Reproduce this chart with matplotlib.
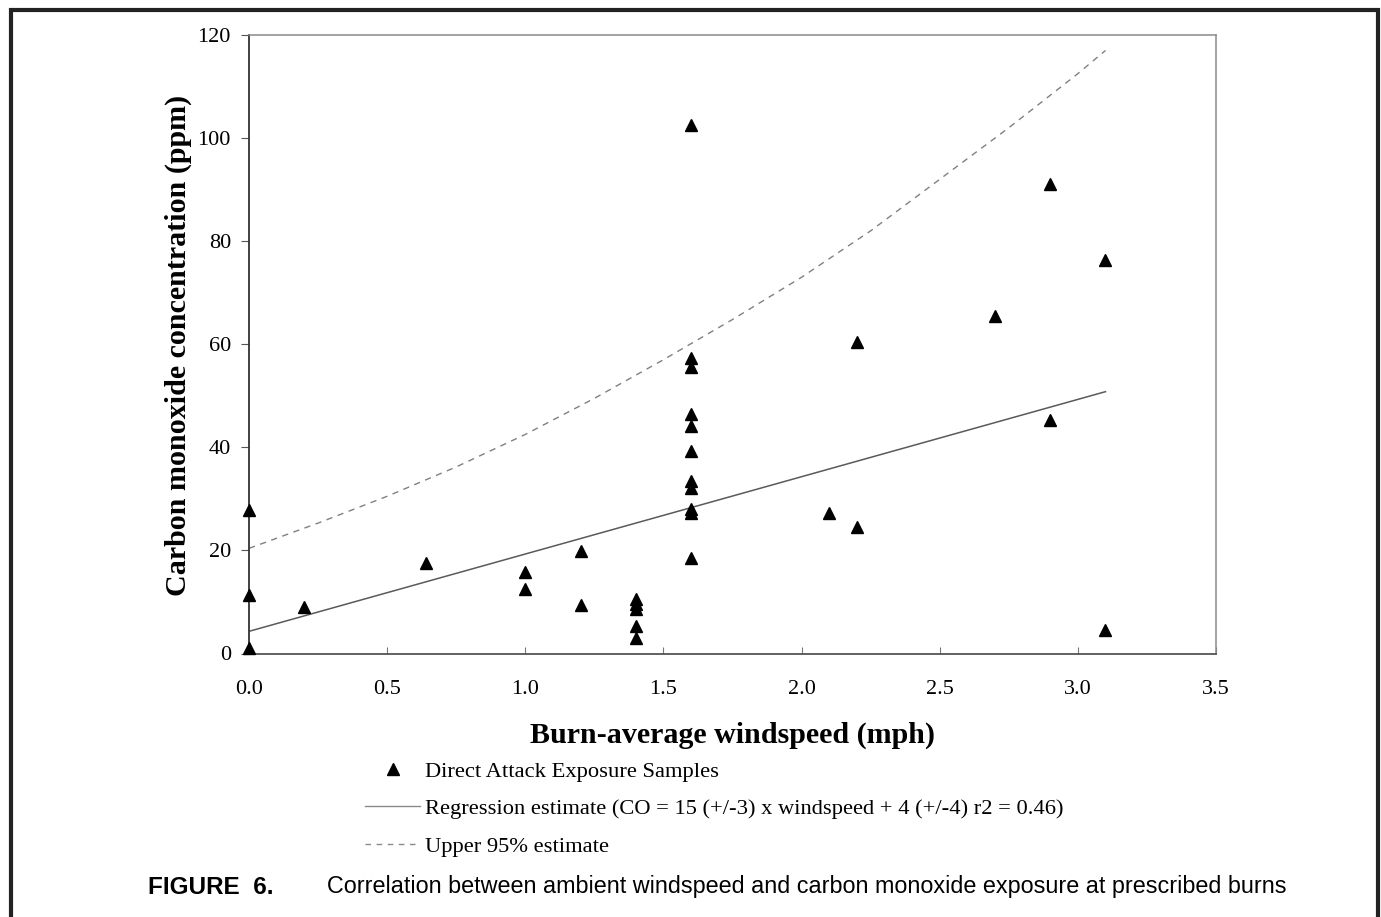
import matplotlib
matplotlib.use("Agg")
import matplotlib.pyplot as plt
from matplotlib.lines import Line2D
from matplotlib.patches import Rectangle

# ---- data ----
wind_mph = [0.0, 0.0, 0.0, 0.2, 0.64, 1.0, 1.0, 1.2, 1.2,
            1.4, 1.4, 1.4, 1.4, 1.4,
            1.6, 1.6, 1.6, 1.6, 1.6, 1.6, 1.6, 1.6, 1.6, 1.6, 1.6,
            2.1, 2.2, 2.2, 2.7, 2.9, 2.9, 3.1, 3.1]
co_ppm = [27.9, 11.3, 1.1, 9.0, 17.5, 15.8, 12.5, 19.9, 9.4,
          10.6, 9.6, 8.6, 5.4, 3.1,
          102.5, 57.3, 55.6, 46.5, 44.1, 39.3, 33.4, 32.1, 28.0, 27.3, 18.5,
          27.3, 60.4, 24.5, 65.5, 91.1, 45.3, 76.3, 4.6]

reg_x = [0.0, 3.1]
reg_y = [4.3, 50.8]

upper_x = [0.0, 0.25, 0.5, 0.75, 1.0, 1.25, 1.5, 1.75, 2.0, 2.25, 2.5, 2.75, 3.0, 3.1]
upper_y = [20.4, 25.3, 30.5, 36.2, 42.5, 49.5, 57.0, 64.8, 73.0, 82.0, 92.0, 102.0, 112.5, 117.0]

x_ticks = [0.0, 0.5, 1.0, 1.5, 2.0, 2.5, 3.0, 3.5]
x_ticklabels = ["0.0", "0.5", "1.0", "1.5", "2.0", "2.5", "3.0", "3.5"]
y_ticks = [0, 20, 40, 60, 80, 100, 120]

legend_labels = ["Direct Attack Exposure Samples",
                 "Regression estimate (CO = 15 (+/-3) x windspeed + 4 (+/-4) r2 = 0.46)",
                 "Upper 95% estimate"]
x_label = "Burn-average windspeed (mph)"
y_label = "Carbon monoxide concentration (ppm)"
caption_bold = "FIGURE  6."
caption_text = "Correlation between ambient windspeed and carbon monoxide exposure at prescribed burns"

# ---- figure ----
W, H = 1381, 917
fig = plt.figure(figsize=(W / 100, H / 100), dpi=100)
serif = "Liberation Serif"
sans = "Liberation Sans"

ax = fig.add_axes([249 / W, 1 - 653.5 / H, (1216 - 249) / W, (653.5 - 35) / H])

ax.plot(upper_x, upper_y, color="#808080", lw=1.0, ls=(0, (4.5, 4)), zorder=2)
ax.plot(reg_x, reg_y, color="#5a5a5a", lw=1.1, zorder=2)
ax.plot(wind_mph, co_ppm, ls="none", marker="^", ms=8.8, color="black", zorder=3, clip_on=False)

ax.set_xlim(0, 3.5)
ax.set_ylim(0, 120)
ax.set_xticks(x_ticks)
ax.set_xticklabels(x_ticklabels)
ax.set_yticks(y_ticks)

for lab in ax.get_xticklabels() + ax.get_yticklabels():
    lab.set_fontfamily(serif)
    lab.set_fontsize(16)
ax.tick_params(axis="x", direction="in", length=5, width=0.8, color="#777777", pad=19)
ax.tick_params(axis="y", direction="out", length=6, width=0.8, color="#555555", pad=7)

ax.spines["left"].set_color("#333333")
ax.spines["left"].set_linewidth(1.3)
ax.spines["bottom"].set_color("#555555")
ax.spines["bottom"].set_linewidth(1.3)
for s in ("top", "right"):
    ax.spines[s].set_color("#8a8a8a")
    ax.spines[s].set_linewidth(1.1)

fig.text(178 / W, 1 - 345 / H, y_label, rotation=90, ha="center", va="center",
         fontfamily=serif, fontweight="bold", fontsize=21.6)
fig.text(733 / W, 1 - 735 / H, x_label, ha="center", va="center",
         fontfamily=serif, fontweight="bold", fontsize=21.6)

handles = [
    Line2D([], [], ls="none", marker="^", ms=8, color="black"),
    Line2D([], [], color="#8a8a8a", lw=1.0),
    Line2D([], [], color="#8a8a8a", lw=1.0, ls=(0, (4, 4))),
]
fig.legend(handles, legend_labels, loc="upper left",
           bbox_to_anchor=(365 / W, 1 - 761 / H), frameon=False,
           prop={"family": serif, "size": 16.2}, handlelength=2.45,
           handletextpad=0.22, labelspacing=0.745, borderpad=0, borderaxespad=0)

fig.text(148 / W, 1 - 887 / H, caption_bold, ha="left", va="center",
         fontfamily=sans, fontweight="bold", fontsize=17.5)
fig.text(327 / W, 1 - 887 / H, caption_text, ha="left", va="center",
         fontfamily=sans, fontsize=16.8)

fig.patches.append(Rectangle((11 / W, -0.05), (1378 - 11) / W, 1.05 - 10 / H,
                             transform=fig.transFigure, fill=False,
                             edgecolor="#222222", lw=3.0))

fig.savefig("out.png", dpi=100)
